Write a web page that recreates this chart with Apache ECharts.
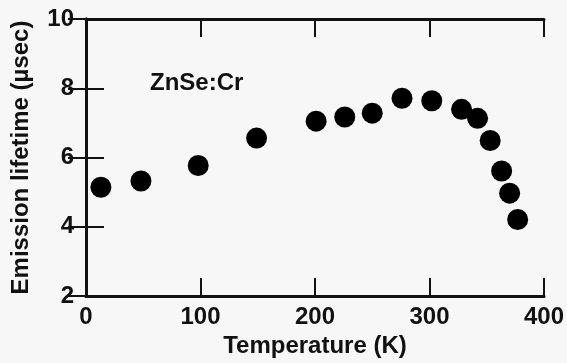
<!DOCTYPE html>
<html>
<head>
<meta charset="utf-8">
<script src="https://cdn.jsdelivr.net/npm/echarts@6/dist/echarts.min.js"></script>
<style>
  html, body { margin: 0; padding: 0; background: #f7f7f7; }
  #chart { width: 567px; height: 363px; }
</style>
</head>
<body>
<div id="chart"></div>
<script>
// temperature (K) and emission lifetime (usec)
const temperature = [13, 48, 98, 149, 201, 226, 250, 276, 302, 328, 342, 353, 363, 370, 377];
const lifetime = [5.14, 5.32, 5.77, 6.56, 7.05, 7.17, 7.28, 7.71, 7.64, 7.39, 7.13, 6.49, 5.61, 4.97, 4.21];
const xTicks = [0, 100, 200, 300, 400];
const yTicks = [2, 4, 6, 8, 10];

const font = '"Liberation Sans", Arial, sans-serif';
const ink = '#111';
const textStyle = { color: ink, fontFamily: font, fontWeight: 'bold', fontSize: 24 };

const points = temperature.map((t, i) => [t, lifetime[i]]);

const axisLine = { show: true, lineStyle: { color: ink, width: 3 } };
const axisTick = { show: true, inside: true, length: 18, lineStyle: { color: ink, width: 2 } };

const chart = echarts.init(document.getElementById('chart'));
chart.setOption({
  backgroundColor: '#f7f7f7',
  animation: false,
  grid: { left: 86, right: 19, top: 19, bottom: 67 },
  xAxis: [
    {
      type: 'value',
      min: xTicks[0],
      max: xTicks[xTicks.length - 1],
      interval: 100,
      position: 'bottom',
      name: 'Temperature (K)',
      nameLocation: 'middle',
      nameGap: 36,
      nameTextStyle: textStyle,
      axisLine: axisLine,
      axisTick: axisTick,
      splitLine: { show: false },
      axisLabel: { ...textStyle, margin: 9 },
    },
    {
      type: 'value',
      min: xTicks[0],
      max: xTicks[xTicks.length - 1],
      interval: 100,
      position: 'top',
      axisLine: axisLine,
      axisTick: axisTick,
      splitLine: { show: false },
      axisLabel: { show: false },
    },
  ],
  yAxis: [
    {
      type: 'value',
      min: yTicks[0],
      max: yTicks[yTicks.length - 1],
      interval: 2,
      position: 'left',
      name: 'Emission lifetime (\u00b5sec)',
      nameLocation: 'middle',
      nameGap: 53,
      nameTextStyle: textStyle,
      axisLine: axisLine,
      axisTick: axisTick,
      splitLine: { show: false },
      axisLabel: { ...textStyle, margin: 12 },
    },
    {
      type: 'value',
      min: yTicks[0],
      max: yTicks[yTicks.length - 1],
      interval: 2,
      position: 'right',
      axisLine: axisLine,
      axisTick: axisTick,
      splitLine: { show: false },
      axisLabel: { show: false },
    },
  ],
  graphic: [
    {
      type: 'text',
      left: 150,
      top: 71,
      style: { text: 'ZnSe:Cr', fill: ink, font: 'bold 24px ' + font },
    },
  ],
  series: [
    {
      type: 'scatter',
      xAxisIndex: 0,
      yAxisIndex: 0,
      data: points,
      symbol: 'circle',
      symbolSize: 21,
      itemStyle: { color: '#000', opacity: 1 },
    },
  ],
});
</script>
</body>
</html>
